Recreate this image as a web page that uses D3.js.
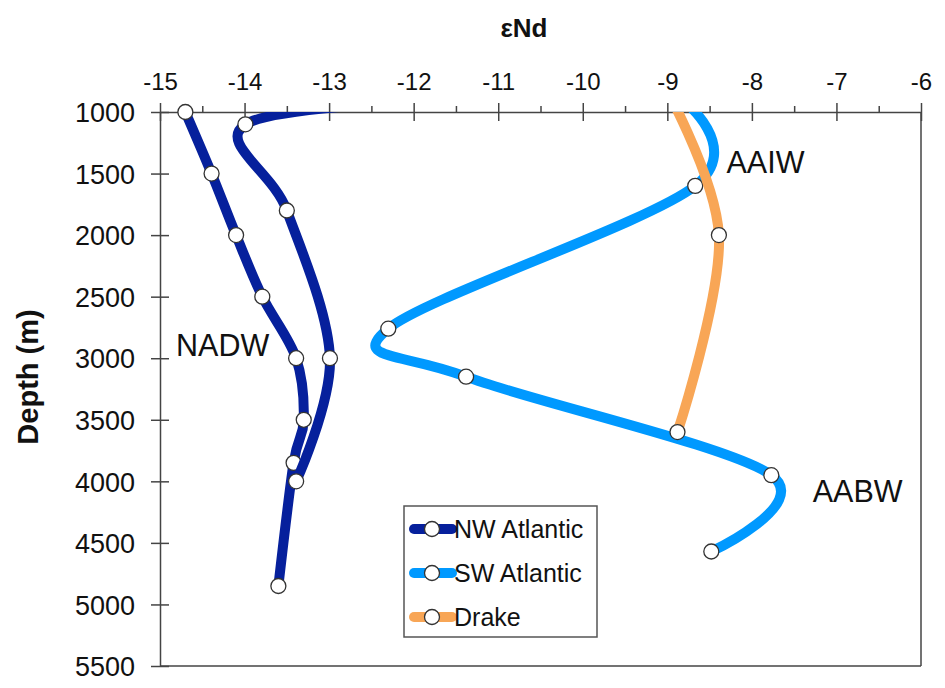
<!DOCTYPE html>
<html>
<head>
<meta charset="utf-8">
<script src="https://cdn.jsdelivr.net/npm/d3@7"></script>
<style>
  body { margin: 0; background: #fff; }
  text { font-family: "Liberation Sans", Arial, sans-serif; fill: #111; }
</style>
</head>
<body>
<svg id="chart" width="945" height="688"></svg>
<script>
//profile data, depth in m and eNd
//NW Atlantic, left station
var nwDepthA = [1000, 1500, 2000, 2500, 3000, 3500, 3850, 4850];
var nwEndA = [-14.70, -14.39, -14.10, -13.79, -13.39, -13.30, -13.42, -13.60];
//NW Atlantic, right station (first point is shallower than the axis, so it gets clipped)
var nwDepthB = [900, 1100, 1800, 3000, 4000];
var nwEndB = [-11.5, -13.99, -13.50, -12.99, -13.39];
//SW Atlantic
var swDepth = [900, 1600, 2760, 3150, 3950, 4570];
var swEnd = [-8.82, -8.67, -12.30, -11.38, -7.77, -8.48];
//Drake Passage
var drDepth = [700, 2000, 3600];
var drEnd = [-9.10, -8.39, -8.88];

//axis ticks
var xTicks = [-15, -14, -13, -12, -11, -10, -9, -8, -7, -6];
var xMinorTicks = [-14.5, -13.5, -12.5, -11.5, -10.5, -9.5, -8.5, -7.5, -6.5];
var yTicks = [1000, 1500, 2000, 2500, 3000, 3500, 4000, 4500, 5000, 5500];

//legend + water mass labels
var legendNames = ["NW Atlantic", "SW Atlantic", "Drake"];
var waterMasses = ["NADW", "AAIW", "AABW"];
var waterMassEnd = [-14.81, -8.30, -7.28];
var waterMassDepth = [2985, 1495, 4170];

var colorNW = "#06209c";
var colorSW = "#0099ff";
var colorDR = "#f8a656";

//plot box (window.top is taken, so no plain "top")
var plotLeft = 160, plotRight = 921, plotTop = 112, plotBottom = 666;

var svg = d3.select("#chart");

var x = d3.scaleLinear().domain([-15, -6]).range([plotLeft, plotRight]);
var y = d3.scaleLinear().domain([1000, 5500]).range([plotTop, plotBottom]);

//clip the smooth lines to the plot box
svg.append("clipPath")
    .attr("id", "plotClip")
  .append("rect")
    .attr("x", plotLeft)
    .attr("y", plotTop)
    .attr("width", plotRight - plotLeft)
    .attr("height", plotBottom - plotTop);

//frame: right and bottom sides
svg.append("line")
    .attr("x1", plotRight).attr("x2", plotRight)
    .attr("y1", plotTop).attr("y2", plotBottom)
    .attr("stroke", "#444").attr("stroke-width", 1.5);
svg.append("line")
    .attr("x1", plotLeft).attr("x2", plotRight)
    .attr("y1", plotBottom).attr("y2", plotBottom)
    .attr("stroke", "#444").attr("stroke-width", 1.5);

//top axis, major ticks cross the line, plain hyphen like the original
var topAxis = svg.append("g")
    .attr("transform", "translate(0," + plotTop + ")")
    .call(d3.axisTop(x).tickValues(xTicks).tickSizeOuter(0).tickFormat(function(d) { return String(d); }));
topAxis.selectAll(".tick line").attr("y1", -9).attr("y2", 9);
topAxis.selectAll(".tick text")
    .attr("y", -22)
    .attr("dy", 0)
    .style("font-size", "24px");

//minor ticks on the top axis
svg.append("g")
    .attr("transform", "translate(0," + plotTop + ")")
    .call(d3.axisTop(x).tickValues(xMinorTicks).tickSize(6).tickSizeOuter(0).tickFormat(""))
    .select(".domain").remove();

//left axis
var leftAxis = svg.append("g")
    .attr("transform", "translate(" + plotLeft + ",0)")
    .call(d3.axisLeft(y).tickValues(yTicks).tickSizeOuter(0).tickFormat(d3.format("d")));
leftAxis.selectAll(".tick line").attr("x1", -9).attr("x2", 9);
leftAxis.selectAll(".tick text")
    .attr("x", -25)
    .attr("dy", "0.36em")
    .style("font-size", "27px");

svg.selectAll(".domain, .tick line")
    .attr("stroke", "#444")
    .attr("stroke-width", 1.5);
svg.selectAll(".tick text").style("fill", "#111").style("font-family", "'Liberation Sans', Arial, sans-serif");

//axis titles
svg.append("text")
    .attr("x", 524)
    .attr("y", 37)
    .attr("text-anchor", "middle")
    .style("font-size", "26px")
    .style("font-weight", "bold")
    .text("εNd");

svg.append("text")
    .attr("transform", "translate(38,377) rotate(-90)")
    .attr("text-anchor", "middle")
    .style("font-size", "29px")
    .style("font-weight", "bold")
    .text("Depth (m)");

//smooth line, close to the excel "smoothed line"
var line = d3.line()
    .x(function(d) { return x(d[0]); })
    .y(function(d) { return y(d[1]); })
    .curve(d3.curveCardinal.tension(0));

function drawSeries(ends, depths, color) {
    var pts = d3.zip(ends, depths);
    svg.append("path")
        .datum(pts)
        .attr("clip-path", "url(#plotClip)")
        .attr("fill", "none")
        .attr("stroke", color)
        .attr("stroke-width", 10)
        .attr("stroke-linecap", "round")
        .attr("d", line);
    //markers only for points inside the depth range
    svg.append("g").selectAll("circle")
        .data(pts.filter(function(d) { return d[1] >= 1000 && d[1] <= 5500; }))
        .enter().append("circle")
            .attr("cx", function(d) { return x(d[0]); })
            .attr("cy", function(d) { return y(d[1]); })
            .attr("r", 7.5)
            .attr("fill", "#fff")
            .attr("stroke", "#333")
            .attr("stroke-width", 1.3);
}

drawSeries(nwEndA, nwDepthA, colorNW);
drawSeries(nwEndB, nwDepthB, colorNW);
drawSeries(swEnd, swDepth, colorSW);
drawSeries(drEnd, drDepth, colorDR);

//water mass labels
svg.append("g").selectAll("text")
    .data(waterMasses)
    .enter().append("text")
        .attr("x", function(d, i) { return x(waterMassEnd[i]); })
        .attr("y", function(d, i) { return y(waterMassDepth[i]); })
        .style("font-size", "30.5px")
        .text(function(d) { return d; });

//legend
var legendColors = [colorNW, colorSW, colorDR];
var legend = svg.append("g").attr("transform", "translate(404,506)");
legend.append("rect")
    .attr("width", 193)
    .attr("height", 131)
    .attr("fill", "#fff")
    .attr("stroke", "#555")
    .attr("stroke-width", 1.5);

var rows = legend.selectAll(".row")
    .data(legendNames)
    .enter().append("g")
        .attr("class", "row")
        .attr("transform", function(d, i) { return "translate(0," + (23 + i * 44) + ")"; });
rows.append("line")
    .attr("x1", 10).attr("x2", 48)
    .attr("stroke", function(d, i) { return legendColors[i]; })
    .attr("stroke-width", 10)
    .attr("stroke-linecap", "round");
rows.append("circle")
    .attr("cx", 28)
    .attr("r", 7.5)
    .attr("fill", "#fff")
    .attr("stroke", "#333")
    .attr("stroke-width", 1.3);
rows.append("text")
    .attr("x", 50)
    .attr("dy", "0.36em")
    .style("font-size", "25px")
    .text(function(d) { return d; });
</script>
</body>
</html>
